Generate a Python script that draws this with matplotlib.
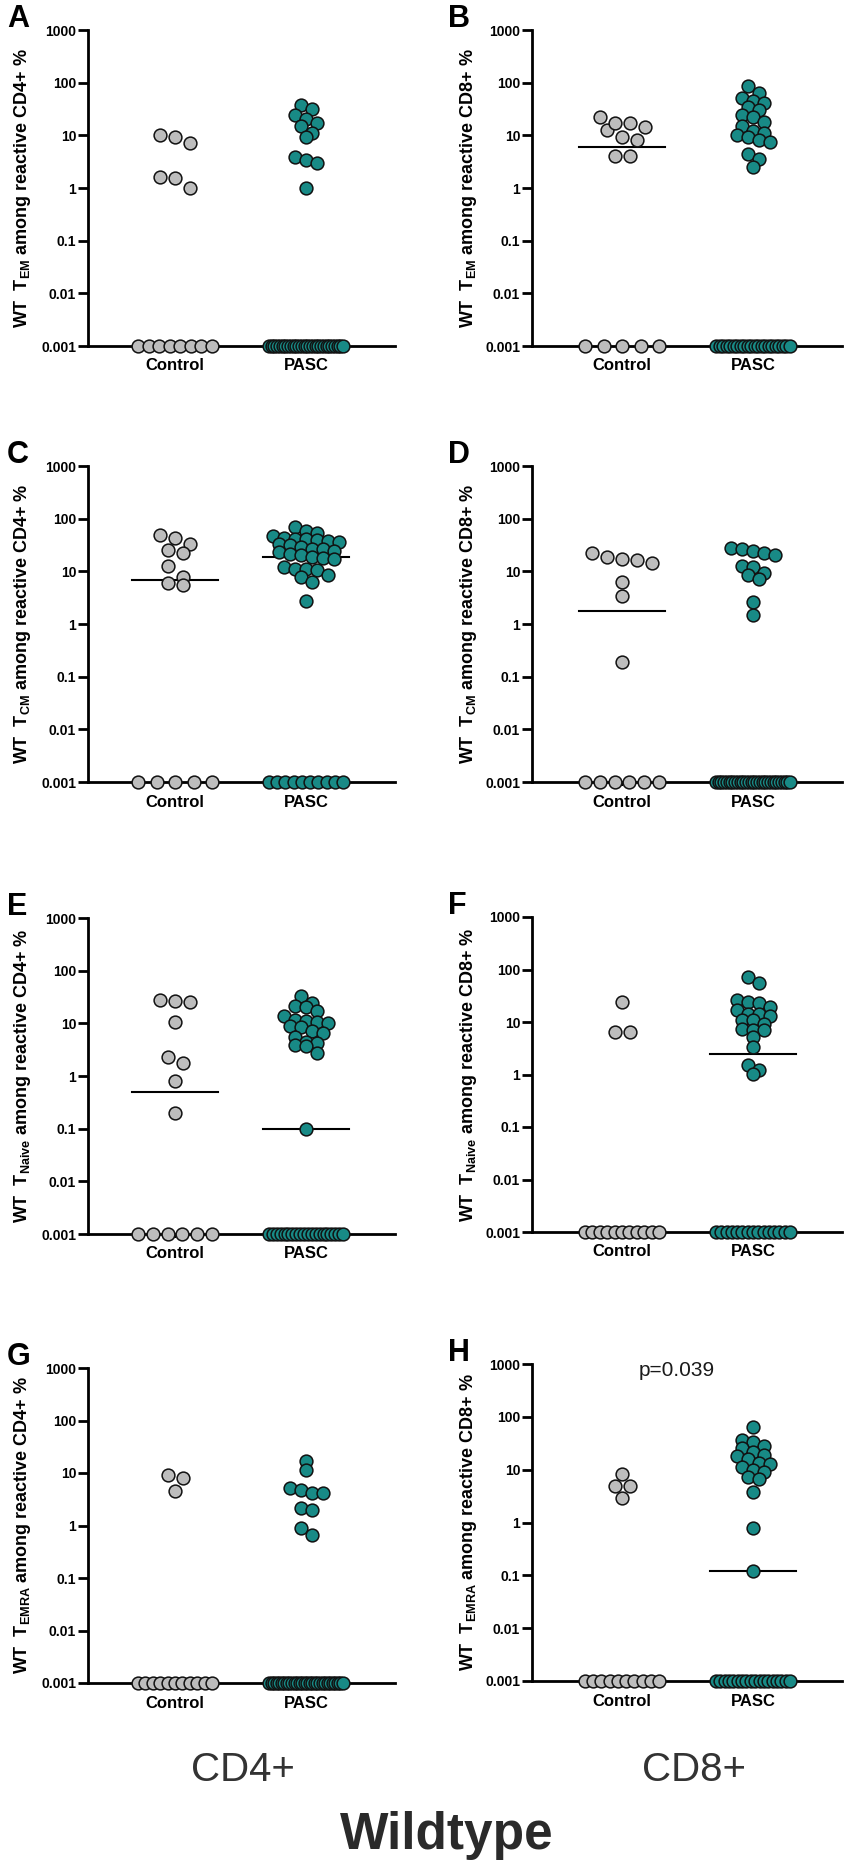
import numpy as np
import matplotlib
matplotlib.use("Agg")
import matplotlib.pyplot as plt
from matplotlib.ticker import NullLocator

plt.rcParams['font.family'] = ['Liberation Sans', 'DejaVu Sans']
plt.rcParams['mathtext.fontset'] = 'custom'
plt.rcParams['mathtext.rm'] = 'Liberation Sans:bold'
plt.rcParams['mathtext.bf'] = 'Liberation Sans:bold'

FLOOR = 0.001  # values below detection plotted on the axis

groups = ["Control", "PASC"]
yticks = [0.001, 0.01, 0.1, 1, 10, 100, 1000]
ytick_labels = ["0.001", "0.01", "0.1", "1", "10", "100", "1000"]

# T effector memory
tem_cd4_control = [7.3, 9.4, 10.0, 1.0, 1.55, 1.6] + [FLOOR] * 8
tem_cd4_pasc = [38, 32, 24, 20, 17, 15, 11, 9.5, 3.9, 3.4, 3.0, 1.0] + [FLOOR] * 28
tem_cd8_control = [22, 16.9, 14.6, 12.6, 17.4, 9.4, 8.1, 4.06, 4.06] + [FLOOR] * 5
tem_cd8_pasc = [86, 63, 52, 45, 41, 35, 30, 24, 22, 18, 15, 12, 11, 10, 9.4,
                8.1, 7.6, 4.5, 3.5, 2.5] + [FLOOR] * 22

# T central memory
tcm_cd4_control = [43, 50, 33, 22.5, 25, 12.7, 7.9, 5.6, 6.05] + [FLOOR] * 5
tcm_cd4_pasc = [68, 59, 54, 47, 43, 42, 41, 40, 38, 36, 33, 31, 29, 27, 26, 24,
                23, 21, 20, 19, 18, 17, 12, 11.3, 11, 10.5, 8.5, 7.9, 6.3, 2.75] + [FLOOR] * 10
tcm_cd8_control = [18.9, 17, 22.5, 14.1, 16.3, 6.3, 3.4, 0.19] + [FLOOR] * 6
tcm_cd8_pasc = [28, 26, 24, 22, 20, 12.6, 12, 9.4, 8.5, 7.3, 2.6, 1.47] + [FLOOR] * 28

# T naive
tn_cd4_control = [25.6, 27.6, 27, 10.8, 1.75, 2.3, 0.79, 0.2] + [FLOOR] * 6
tn_cd4_pasc = [33, 24, 21.5, 20, 17, 14, 11.7, 11, 10.4, 10.1, 9, 8.7, 7, 6.5, 5.6,
               4.5, 4.2, 3.8, 3.7, 2.7, 0.1] + [FLOOR] * 20
tn_cd8_control = [24, 6.4, 6.5] + [FLOOR] * 11
tn_cd8_pasc = [72, 55, 26, 24, 23, 19, 17, 14.4, 14, 13, 11, 10.8, 9, 7.5, 7.1, 7.1,
               5.2, 3.3, 1.54, 1.24, 1.04] + [FLOOR] * 15

# T EMRA
temra_cd4_control = [8.0, 9.2, 4.6] + [FLOOR] * 11
temra_cd4_pasc = [16.6, 11.5, 5.1, 4.8, 4.2, 4.1, 2.2, 2.0, 0.88, 0.65] + [FLOOR] * 30
temra_cd8_control = [4.9, 4.9, 8.4, 2.9] + [FLOOR] * 10
temra_cd8_pasc = [64, 37, 33, 28, 26, 22, 19, 18, 16, 13.3, 13, 11, 9.9, 8.9, 7.4,
                  6.6, 3.75, 0.78, 0.12] + [FLOOR] * 18

panels = [
    ("A", 0, 0, "EM", "CD4+", tem_cd4_control, tem_cd4_pasc),
    ("B", 1, 0, "EM", "CD8+", tem_cd8_control, tem_cd8_pasc),
    ("C", 0, 1, "CM", "CD4+", tcm_cd4_control, tcm_cd4_pasc),
    ("D", 1, 1, "CM", "CD8+", tcm_cd8_control, tcm_cd8_pasc),
    ("E", 0, 2, "Naive", "CD4+", tn_cd4_control, tn_cd4_pasc),
    ("F", 1, 2, "Naive", "CD8+", tn_cd8_control, tn_cd8_pasc),
    ("G", 0, 3, "EMRA", "CD4+", temra_cd4_control, temra_cd4_pasc),
    ("H", 1, 3, "EMRA", "CD8+", temra_cd8_control, temra_cd8_pasc),
]

GRAY = "#bdbdbd"
TEAL = "#188a86"
W, H = 851, 1872

# layout in pixels
col_lr = [(88, 395), (532, 842)]
row_tb = [[(30, 346), (30, 346)], [(466, 782), (466, 782)],
          [(918, 1234), (917, 1232)], [(1368, 1683), (1364, 1681)]]
ctrl_off = [87, 90]
PX_UNIT = 131.0


def column_offsets(vals, row_h, step):
    """prism-like column scatter: values grouped into rows, rows spread around center (px)"""
    vals = np.asarray(vals, float)
    xs = np.zeros(len(vals))
    zero = vals <= FLOOR
    nz = zero.sum()
    if nz > 1:
        xs[zero] = np.linspace(-37, 37, nz)
    ypx = (np.log10(vals) + 3) * 316 / 6.0
    idx = np.where(~zero)[0]
    idx = idx[np.argsort(-vals[idx])]
    rows, cur = [], []
    for i in idx:
        if cur and ypx[cur[0]] - ypx[i] > row_h:
            rows.append(cur)
            cur = []
        cur.append(i)
    if cur:
        rows.append(cur)
    for r in rows:
        k = len(r)
        xs[r] = (np.arange(k) - (k - 1) / 2.0) * step
    return xs


fig = plt.figure(figsize=(W / 100, H / 100), dpi=100)

for letter, col, row, sub, cd, ctrl, pasc in panels:
    l, r = col_lr[col]
    t, b = row_tb[row][col]
    ax = fig.add_axes([l / W, 1 - b / H, (r - l) / W, (b - t) / H])
    x0 = 1 - ctrl_off[col] / PX_UNIT
    x1 = x0 + (r - l) / PX_UNIT
    ax.set_xlim(x0, x1)
    ax.set_yscale("log")
    ax.set_ylim(0.001, 1000)

    for gi, (vals, color, rh, st) in enumerate([(ctrl, GRAY, 11, 15), (pasc, TEAL, 8, 11)]):
        xpos = gi + 1
        med = np.median(vals)
        if med > FLOOR:
            ax.plot([xpos - 0.33, xpos + 0.33], [med, med], color="black", lw=1.5, zorder=2)
        offs = column_offsets(vals, rh, st) / PX_UNIT
        ax.plot(xpos + offs, vals, "o", ms=9.2, mfc=color, mec="#111111", mew=1.1,
                ls="none", zorder=3, clip_on=False)

    for s in ["top", "right"]:
        ax.spines[s].set_visible(False)
    for s in ["left", "bottom"]:
        ax.spines[s].set_linewidth(2.0)
    ax.set_yticks(yticks)
    ax.set_yticklabels(ytick_labels, fontsize=10, fontweight="bold")
    ax.yaxis.set_minor_locator(NullLocator())
    ax.tick_params(axis="y", length=7, width=2.0, pad=1.5)
    ax.set_xticks([1, 2])
    ax.set_xticklabels(groups, fontsize=12, fontweight="bold")
    ax.tick_params(axis="x", length=3, width=1.5, pad=6)

    ylab = "WT  $\\mathbf{T_{%s}}$ among reactive %s %%" % (sub, cd)
    lx = 22.5 if col == 0 else 469
    fig.text(lx / W, 1 - (t + b) / 2 / H, ylab, rotation=90, ha="center", va="center",
             fontsize=13, fontweight="bold")
    lxl = 7 if col == 0 else 448
    fig.text(lxl / W, 1 - (t - 3) / H, letter, fontsize=22, fontweight="bold",
             ha="left", va="baseline")

fig.text(677 / W, 1 - 1370 / H, "p=0.039", fontsize=15, ha="center", va="center", color="#1a1a1a")
fig.text(243 / W, 1 - 1770 / H, "CD4+", fontsize=29, ha="center", va="center", color="#333333")
fig.text(694 / W, 1 - 1770 / H, "CD8+", fontsize=29, ha="center", va="center", color="#333333")
fig.text(447 / W, 1 - 1835 / H, "Wildtype", fontsize=37, fontweight="bold",
         ha="center", va="center", color="#2a2a2a")

fig.savefig("out.png", dpi=100)
